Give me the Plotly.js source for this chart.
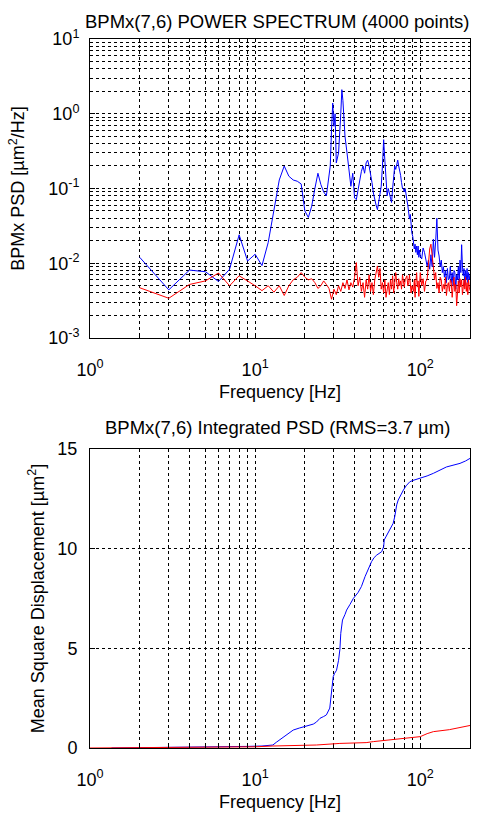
<!DOCTYPE html>
<html>
<head>
<meta charset="utf-8">
<script src="https://cdn.plot.ly/plotly-3.0.1.min.js"></script>
<style>html,body{margin:0;padding:0;background:#fff;}#chart{width:478px;height:813px;}</style>
</head>
<body>
<div id="chart"></div>
<script>
// ---- Power spectrum (top) ----
var freqBlue = [2,3,4,5,6,7,8,9,10,11,12,13,14,15,16,17,18,19,20,21,22,23,24,25,26,27,28,28.5,29,29.5,30,30.5,31,31.5,32,33,33.5,34,34.5,35,36,37,38,39,40,41,42,43,44,45,46,47,48,49,50,51,52,53,54,55,56,57,58,59,60,61,62,63,64,65,66,67,68,69,70,71,72,73,74,75,76,77,78,79,80,81,82,83,84,85,86,87,88,89,90,91,92,93,94,95,96,97,98,99,100,102,104,106,108,110,112,114,116,118,120,122,124,126,128,130,132,134,136,138,140,142,144,146,148,150,152,154,156,158,160,162,164,166,168,170,172,174,176,178,180,182,184,186,188,190,192,194,196,198,200];
var psdBlue = [0.012,0.0044,0.0081,0.0077,0.0057,0.0083,0.024,0.0107,0.0132,0.0093,0.019,0.05,0.13,0.2,0.146,0.13,0.125,0.115,0.05,0.041,0.058,0.1,0.16,0.113,0.09,0.08,0.16,0.2,0.6,1.39,0.68,1.0,0.22,0.25,0.3,1.0,2.1,1.5,0.83,0.5,0.3,0.18,0.107,0.16,0.075,0.071,0.1,0.13,0.17,0.2,0.16,0.22,0.24,0.2,0.16,0.12,0.087,0.07,0.06,0.052,0.07,0.09,0.107,0.2,0.45,0.24,0.12,0.08,0.1,0.088,0.075,0.065,0.1,0.15,0.2,0.18,0.22,0.24,0.2,0.18,0.15,0.12,0.1,0.098,0.09,0.1,0.088,0.07,0.06,0.05,0.039,0.045,0.03,0.025,0.023,0.02,0.0155,0.018,0.014,0.017,0.013,0.017,0.012,0.015,0.0125,0.0114,0.016,0.014,0.0105,0.0092,0.011,0.0083,0.013,0.009,0.021,0.012,0.02,0.04,0.015,0.0125,0.009,0.011,0.0075,0.009,0.0065,0.008,0.0055,0.0085,0.006,0.0062,0.009,0.0055,0.0075,0.005,0.008,0.0075,0.0045,0.007,0.006,0.009,0.0055,0.011,0.0075,0.0177,0.009,0.0068,0.0085,0.005,0.008,0.006,0.0085,0.0055,0.0075,0.006,0.007];
var freqRed = [2,3,4,5,6,7,8,9,10,11,12,13,14,15,16,17,18,19,20,21,22,23,24,25,26,27,28,29,30,31,32,33,34,35,36,37,38,39,40,41,42,43,44,45,46,47,48,49,50,51,52,53,54,55,56,57,58,59,60,61,62,63,64,65,66,67,68,69,70,71,72,73,74,75,76,77,78,79,80,81,82,83,84,85,86,87,88,89,90,91,92,93,94,95,96,97,98,99,100,102,104,106,108,110,112,114,116,118,120,122,124,126,128,130,132,134,136,138,140,142,144,146,148,150,152,154,156,158,160,162,164,166,168,170,172,174,176,178,180,182,184,186,188,190,192,194,196,198,200];
var psdRed = [0.0047,0.0034,0.0052,0.0058,0.0074,0.005,0.0068,0.0058,0.005,0.0043,0.005,0.0041,0.005,0.0037,0.005,0.006,0.0065,0.0075,0.0065,0.006,0.0062,0.0055,0.0046,0.005,0.0058,0.0052,0.0046,0.0033,0.0045,0.0038,0.005,0.0042,0.0055,0.0046,0.006,0.0044,0.0055,0.0048,0.0065,0.0102,0.005,0.0065,0.0042,0.0055,0.0035,0.006,0.0045,0.007,0.0042,0.0055,0.0038,0.006,0.0075,0.0092,0.0065,0.0085,0.0045,0.0055,0.004,0.006,0.0035,0.0048,0.0055,0.0038,0.006,0.0045,0.0068,0.004,0.0052,0.0075,0.0055,0.0045,0.0062,0.005,0.0058,0.0045,0.007,0.0055,0.0048,0.006,0.0065,0.0068,0.005,0.0055,0.007,0.0045,0.004,0.005,0.0046,0.0042,0.006,0.0035,0.0055,0.0075,0.0048,0.0058,0.0036,0.0065,0.0075,0.005,0.0062,0.0042,0.0058,0.006,0.009,0.0155,0.018,0.011,0.009,0.006,0.0075,0.0046,0.0055,0.004,0.0065,0.006,0.0042,0.0052,0.0045,0.0065,0.0037,0.005,0.0055,0.0042,0.006,0.0056,0.0035,0.0048,0.0065,0.0042,0.0052,0.0027,0.0045,0.0058,0.004,0.0062,0.0048,0.006,0.0038,0.0052,0.006,0.0045,0.0065,0.0042,0.0055,0.0038,0.006,0.0048,0.0043];

// ---- Integrated PSD (bottom) ----
var freqIntBlue = [1.35,3,5,7,9,11,12,12.8,13.5,14.8,16,17,18.5,19.6,21,22.5,23.5,24.7,26,27,28.3,29,29.7,30.3,31.1,32,32.6,33,33.8,35,35.8,37.5,39.3,42,44,46.3,48.5,50.7,52.5,54.5,58.4,60,60.5,62,64,66,68.5,70,70.8,72,73.5,76,79,82,86.5,90,95,100,110,120,132,144,160,174,188,200];
var msdBlue = [0,0.02,0.04,0.06,0.08,0.1,0.12,0.15,0.3,0.55,0.75,0.9,1.0,1.07,1.15,1.2,1.3,1.49,1.58,1.66,2.0,2.8,3.58,3.75,3.9,4.4,4.95,5.75,6.42,6.7,6.92,7.2,7.5,7.8,8.1,8.6,9.0,9.35,9.55,9.68,9.85,10.1,10.44,10.6,10.85,11.05,11.27,11.6,11.94,12.2,12.44,12.7,12.94,13.15,13.36,13.42,13.48,13.53,13.65,13.78,13.95,14.1,14.2,14.28,14.4,14.53];
var freqIntRed = [1,5,10,12.8,23.5,32.6,47,52,68.5,85,100,110,120,150,200];
var msdRed = [0,0.02,0.06,0.1,0.15,0.23,0.27,0.32,0.43,0.5,0.57,0.72,0.82,0.92,1.13];

// tick labels and minor grid positions
var xMajor = [1, 10, 100];
var xMajorText = ['10<sup>0</sup>', '10<sup>1</sup>', '10<sup>2</sup>'];
var yMajor = [0.001, 0.01, 0.1, 1, 10];
var yMajorText = ['10<sup>-3</sup>', '10<sup>-2</sup>', '10<sup>-1</sup>', '10<sup>0</sup>', '10<sup>1</sup>'];
var xMinor = [], yMinor = [];
[1, 10, 100].forEach(function(d){
  for (var m = 2; m <= 9; m++) { if (m * d <= 200) xMinor.push(m * d); }
});
[0.001, 0.01, 0.1, 1].forEach(function(d){
  for (var m = 2; m <= 9; m++) yMinor.push(m * d);
});

var FONT = 'Liberation Sans, Arial, sans-serif';
var DASH = '3px,3px';
var traces = [
  {x: freqBlue, y: psdBlue, type: 'scatter', mode: 'lines', line: {color: '#0000ff', width: 1}, xaxis: 'x', yaxis: 'y', hoverinfo: 'skip'},
  {x: freqRed, y: psdRed, type: 'scatter', mode: 'lines', line: {color: '#ff0000', width: 1}, xaxis: 'x', yaxis: 'y', hoverinfo: 'skip'},
  {x: freqIntBlue, y: msdBlue, type: 'scatter', mode: 'lines', line: {color: '#0000ff', width: 1}, xaxis: 'x2', yaxis: 'y2', hoverinfo: 'skip'},
  {x: freqIntRed, y: msdRed, type: 'scatter', mode: 'lines', line: {color: '#ff0000', width: 1}, xaxis: 'x2', yaxis: 'y2', hoverinfo: 'skip'}
];

function xAxis(anchor){
  return {
    type: 'log', range: [0, Math.log10(200)], anchor: anchor,
    tickmode: 'array', tickvals: xMajor, ticktext: xMajorText,
    showgrid: true, gridcolor: '#000', griddash: DASH, gridwidth: 1,
    minor: {tickmode: 'array', tickvals: xMinor, showgrid: true, gridcolor: '#000', griddash: DASH, gridwidth: 1, ticks: 'inside', ticklen: 3, tickcolor: '#000'},
    showline: true, linecolor: '#000', linewidth: 1, mirror: true,
    ticks: 'inside', ticklen: 5, tickcolor: '#000',
    tickfont: {family: FONT, size: 18, color: '#000'},
    ticklabelstandoff: 15,
    zeroline: false,
    title: {text: 'Frequency [Hz]', font: {family: FONT, size: 18, color: '#000'}, standoff: 6},
    automargin: false
  };
}

var layout = {
  width: 478, height: 813,
  margin: {l: 90, r: 8, t: 39, b: 65},
  paper_bgcolor: '#fff', plot_bgcolor: '#fff',
  showlegend: false,
  font: {family: FONT, size: 18, color: '#000'},
  xaxis: xAxis('y'),
  xaxis2: xAxis('y2'),
  yaxis: {
    type: 'log', range: [-3, 1], domain: [0.5783, 1], anchor: 'x',
    tickmode: 'array', tickvals: yMajor, ticktext: yMajorText,
    showgrid: true, gridcolor: '#000', griddash: DASH, gridwidth: 1,
    minor: {tickmode: 'array', tickvals: yMinor, showgrid: true, gridcolor: '#000', griddash: DASH, gridwidth: 1, ticks: 'inside', ticklen: 3, tickcolor: '#000'},
    showline: true, linecolor: '#000', linewidth: 1, mirror: true,
    ticks: 'inside', ticklen: 5, tickcolor: '#000',
    tickfont: {family: FONT, size: 18, color: '#000'},
    ticklabelstandoff: 6,
    zeroline: false,
    title: {text: 'BPMx PSD [\u00b5m<sup>2</sup>/Hz]', font: {family: FONT, size: 18, color: '#000'}, standoff: 18},
    automargin: false
  },
  yaxis2: {
    type: 'linear', range: [0, 15], domain: [0, 0.4217], anchor: 'x2',
    tickmode: 'array', tickvals: [0, 5, 10, 15], ticktext: ['0', '5', '10', '15'],
    showgrid: true, gridcolor: '#000', griddash: DASH, gridwidth: 1,
    showline: true, linecolor: '#000', linewidth: 1, mirror: true,
    ticks: 'inside', ticklen: 5, tickcolor: '#000',
    tickfont: {family: FONT, size: 18, color: '#000'},
    ticklabelstandoff: 8,
    zeroline: false,
    title: {text: 'Mean Square Displacement [\u00b5m<sup>2</sup>]', font: {family: FONT, size: 18, color: '#000'}, standoff: 8},
    automargin: false
  },
  annotations: [
    {text: 'BPMx(7,6) POWER SPECTRUM (4000 points)', xref: 'paper', yref: 'paper', x: 0.493, y: (748 - 21) / 709, xanchor: 'center', yanchor: 'middle', showarrow: false, font: {family: FONT, size: 18.5, color: '#000'}},
    {text: 'BPMx(7,6) Integrated PSD (RMS=3.7 \u00b5m)', xref: 'paper', yref: 'paper', x: 0.493, y: (748 - 427) / 709, xanchor: 'center', yanchor: 'middle', showarrow: false, font: {family: FONT, size: 18.5, color: '#000'}}
  ]
};

Plotly.newPlot('chart', traces, layout, {staticPlot: true, displayModeBar: false});
</script>
</body>
</html>
